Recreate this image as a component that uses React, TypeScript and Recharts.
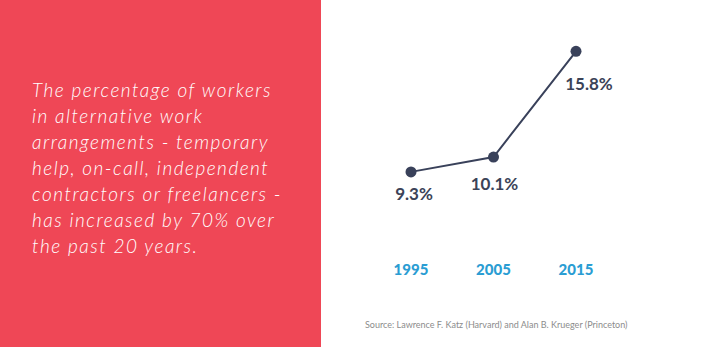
import React from "react";
import { LineChart, Line, XAxis, YAxis, LabelList } from "recharts";

const years = ["1995", "2005", "2015"];
const shares = [9.3, 10.1, 15.8];
const blurbLines = [
  "The percentage of workers",
  "in alternative work",
  "arrangements - temporary",
  "help, on-call, independent",
  "contractors or freelancers -",
  "has increased by 70% over",
  "the past 20 years.",
];
const sourceNote = "Source: Lawrence F. Katz (Harvard) and Alan B. Krueger (Princeton)";

const data = years.map((year, i) => ({ year, share: shares[i] }));

// label nudges per point (dx, dy from the dot)
const labelNudge = [
  { dx: 3, dy: 22 },
  { dx: 1, dy: 26 },
  { dx: 13, dy: 32 },
];

const PctLabel = (props: any) => {
  const { x, y, value, index } = props;
  const n = labelNudge[index] || { dx: 0, dy: 24 };
  return (
    <text
      x={x + n.dx}
      y={y + n.dy}
      textAnchor="middle"
      dominantBaseline="central"
      fill="#3b4358"
      fontFamily="Lato, sans-serif"
      fontWeight={700}
      fontSize={17}
    >
      {value}%
    </text>
  );
};

export default function App() {
  return (
    <div
      style={{
        position: "fixed",
        left: 0,
        top: 0,
        width: 706,
        height: 347,
        background: "#fff",
        overflow: "hidden",
      }}
    >
      <div
        style={{
          position: "absolute",
          left: 0,
          top: 0,
          width: 321,
          height: 347,
          background: "#ef4756",
        }}
      >
        <div
          style={{
            position: "absolute",
            left: 32,
            top: 77,
            color: "#fff",
            fontFamily: "Lato, sans-serif",
            fontStyle: "italic",
            fontWeight: 300,
            fontSize: 19,
            letterSpacing: 1.5,
            lineHeight: "26px",
            whiteSpace: "nowrap",
          }}
        >
          {blurbLines.map((l) => (
            <div key={l}>{l}</div>
          ))}
        </div>
      </div>
      <div style={{ position: "absolute", left: 322, top: 0 }}>
        <LineChart
          width={384}
          height={347}
          data={data}
          margin={{ top: 29, right: 130, bottom: 121, left: 89 }}
        >
          <XAxis
            dataKey="year"
            axisLine={false}
            tickLine={false}
            interval={0}
            tickMargin={62}
            tick={{
              fill: "#2a9dd3",
              fontFamily: "Lato, sans-serif",
              fontWeight: 900,
              fontSize: 15,
            }}
          />
          <YAxis hide domain={[8, 17]} />
          <Line
            type="linear"
            dataKey="share"
            stroke="#39415a"
            strokeWidth={2}
            dot={{ r: 5.5, fill: "#39415a", stroke: "#39415a", strokeWidth: 0 }}
            isAnimationActive={false}
          >
            <LabelList dataKey="share" content={PctLabel} />
          </Line>
        </LineChart>
      </div>
      <div
        style={{
          position: "absolute",
          left: 365,
          top: 319,
          color: "#8c8c8c",
          fontFamily: "Lato, sans-serif",
          fontSize: 9,
          whiteSpace: "nowrap",
        }}
      >
        {sourceNote}
      </div>
    </div>
  );
}
